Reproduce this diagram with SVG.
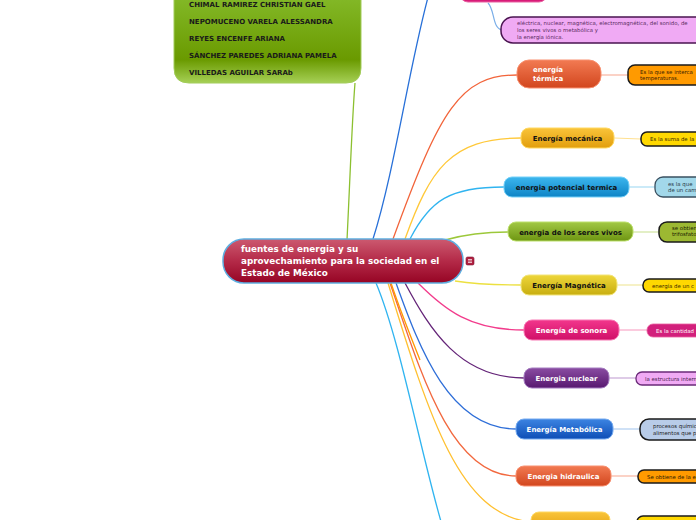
<svg xmlns="http://www.w3.org/2000/svg" width="696" height="520" viewBox="0 0 696 520">
<defs>
<linearGradient id="gGreen" x1="0" y1="0" x2="0" y2="1"><stop offset="0" stop-color="#86bc2c"/><stop offset="0.75" stop-color="#6a9a00"/><stop offset="1" stop-color="#a6d056"/></linearGradient>
<linearGradient id="gCenter" x1="0" y1="0" x2="0" y2="1"><stop offset="0" stop-color="#cc5a70"/><stop offset="0.5" stop-color="#b42a48"/><stop offset="1" stop-color="#960424"/></linearGradient>
<linearGradient id="gTerm" x1="0" y1="0" x2="0" y2="1"><stop offset="0" stop-color="#f27a52"/><stop offset="1" stop-color="#d2461e"/></linearGradient>
<linearGradient id="gMec" x1="0" y1="0" x2="0" y2="1"><stop offset="0" stop-color="#f9c43a"/><stop offset="1" stop-color="#e29e0c"/></linearGradient>
<linearGradient id="gPot" x1="0" y1="0" x2="0" y2="1"><stop offset="0" stop-color="#3cb6ee"/><stop offset="1" stop-color="#0e84c6"/></linearGradient>
<linearGradient id="gViv" x1="0" y1="0" x2="0" y2="1"><stop offset="0" stop-color="#a2c844"/><stop offset="1" stop-color="#6e9612"/></linearGradient>
<linearGradient id="gMag" x1="0" y1="0" x2="0" y2="1"><stop offset="0" stop-color="#eed63a"/><stop offset="1" stop-color="#c8ae10"/></linearGradient>
<linearGradient id="gSon" x1="0" y1="0" x2="0" y2="1"><stop offset="0" stop-color="#f2368c"/><stop offset="1" stop-color="#d01068"/></linearGradient>
<linearGradient id="gNuc" x1="0" y1="0" x2="0" y2="1"><stop offset="0" stop-color="#8a4ca2"/><stop offset="1" stop-color="#581870"/></linearGradient>
<linearGradient id="gMet" x1="0" y1="0" x2="0" y2="1"><stop offset="0" stop-color="#3c84e2"/><stop offset="1" stop-color="#0e4eb6"/></linearGradient>
<style>
.nt{font-family:"DejaVu Sans",Verdana,sans-serif;font-weight:bold;font-size:7px;}
.w{fill:#ffffff;}
.k{fill:#111111;}
.nm{font-family:"DejaVu Sans",Verdana,sans-serif;font-weight:bold;font-size:7px;fill:#1a1a1a;}
.ds{font-family:"DejaVu Sans",Verdana,sans-serif;font-size:5.4px;}
.c{fill:none;stroke-width:1.3;}
.cl{fill:none;stroke-width:1.2;}
.box{stroke:#1a1a1a;stroke-width:1.5;}
</style>
</defs>
<rect width="696" height="520" fill="#ffffff"/>

<g id="connectors">
<path class="c" d="M347,240 C350,180 352,120 355,83" stroke="#8cc030" stroke-width="1.6"/>
<path class="c" d="M373,239 C395,170 410,60 430,-10" stroke="#2870d8" stroke-width="1.6"/>
<path class="c" d="M393,239 C440,110 460,75 517,75" stroke="#f2643a"/>
<path class="c" d="M405,239 C430,170 450,138 521,138" stroke="#ffc838"/>
<path class="c" d="M410,239 C430,200 450,187 504,187" stroke="#30b4f0"/>
<path class="c" d="M445,240 C470,233 490,232 508,232" stroke="#9cc83a"/>
<path class="c" d="M455,281 C480,285 500,285 521,285" stroke="#ece040"/>
<path class="c" d="M418,283 C445,310 470,330 524,330" stroke="#f23c8c"/>
<path class="c" d="M405,283 C430,330 460,378 524,378" stroke="#642478"/>
<path class="c" d="M396,283 C420,350 450,429 516,429" stroke="#2e6ed8"/>
<path class="c" d="M390,283 C420,370 450,476 516,476" stroke="#f2683e"/>
<path class="c" d="M388,283 C430,420 460,515 531,522" stroke="#ffc030"/>
<path class="c" d="M391,283 C400,310 410,335 420,360" stroke="#ff9a00" stroke-width="1.8"/>
<path class="c" d="M376,283 C400,340 420,450 442,525" stroke="#30b4f0"/>
<path class="cl" d="M488,3 C495,10 492,28 502,30" stroke="#7aaee8"/>
<path class="cl" d="M601,75 L628,75" stroke="#f8b4a0"/>
<path class="cl" d="M614,138 L641,139" stroke="#ffe090"/>
<path class="cl" d="M629,187 L655,187" stroke="#a8dcf4"/>
<path class="cl" d="M633,232 L659,232" stroke="#d0e4a0"/>
<path class="cl" d="M617,285 L643,285" stroke="#f0e8a0"/>
<path class="cl" d="M619,330 L647,330" stroke="#f8a8c8"/>
<path class="cl" d="M609,378 L636,378" stroke="#c8a8d8"/>
<path class="cl" d="M613,429 L640,429" stroke="#b0cdf0"/>
<path class="cl" d="M611,476 L638,476" stroke="#f8b4a0"/>
</g>

<g id="names">
<path d="M174,-10 H361 V68 Q361,83 346,83 H189 Q174,83 174,68 Z" fill="url(#gGreen)" stroke="#a2cc5a" stroke-width="1"/>
<text class="nm" x="189" y="7">CHIMAL RAMIREZ CHRISTIAN GAEL</text>
<text class="nm" x="189" y="24">NEPOMUCENO VARELA ALESSANDRA</text>
<text class="nm" x="189" y="41">REYES ENCENFE ARIANA</text>
<text class="nm" x="189" y="58">SÁNCHEZ PAREDES ADRIANA PAMELA</text>
<text class="nm" x="189" y="75">VILLEDAS AGUILAR SARAb</text>
</g>

<g id="center">
<rect x="223" y="239" width="240" height="44" rx="21" fill="url(#gCenter)" stroke="#5eaee0" stroke-width="1.5"/>
<text class="nt w" style="font-size:8.8px" x="241" y="252">fuentes de energia y su</text>
<text class="nt w" style="font-size:8.8px" x="241" y="264">aprovechamiento para la sociedad en el</text>
<text class="nt w" style="font-size:8.8px" x="241" y="276">Estado de México</text>
</g>
<g id="note-icon">
<rect x="466" y="257" width="8" height="8" rx="1.5" fill="#b02040" stroke="#801030" stroke-width="0.6"/>
<path d="M468,259.5 H472 M468,261 H472 M468,262.5 H472" stroke="#ffffff" stroke-width="0.7"/>
</g>

<g id="top-node">
<rect x="460" y="-20" width="87" height="22" rx="8" fill="#d81b78" stroke="#e860a0" stroke-width="1"/>
</g>
<g id="top-desc">
<rect x="501" y="17" width="240" height="26" rx="12" fill="#f0aaf4" stroke="#4a1450" stroke-width="1.5"/>
<text class="ds" fill="#5a2a60" x="517" y="25">eléctrica, nuclear, magnética, electromagnética, del sonido, de</text>
<text class="ds" fill="#5a2a60" x="517" y="32">los seres vivos o metabólica y</text>
<text class="ds" fill="#5a2a60" x="517" y="38.5">la energía iónica.</text>
</g>

<g id="termica">
<rect x="517" y="60" width="84" height="28" rx="12" fill="url(#gTerm)" stroke="#f89070" stroke-width="1"/>
<text class="nt w" x="533" y="72">energía</text>
<text class="nt w" x="533" y="81">térmica</text>
</g>
<g id="termica-desc">
<rect x="628" y="65" width="120" height="20" rx="7" fill="#ff9a00" class="box"/>
<text class="ds" fill="#3a2000" x="640" y="73.5">Es la que se interca</text>
<text class="ds" fill="#3a2000" x="640" y="80">temperaturas.</text>
</g>

<g id="mecanica">
<rect x="521" y="128" width="93" height="20" rx="8" fill="url(#gMec)" stroke="#ffd860" stroke-width="1"/>
<text class="nt k" x="567.5" y="141" text-anchor="middle">Energía mecánica</text>
</g>
<g id="mecanica-desc">
<rect x="641" y="132" width="100" height="14" rx="6" fill="#ffd800" class="box"/>
<text class="ds" fill="#3a2a00" x="650" y="141">Es la suma de la</text>
</g>

<g id="potencial">
<rect x="504" y="177" width="125" height="20" rx="8" fill="url(#gPot)" stroke="#74d0f8" stroke-width="1"/>
<text class="nt k" x="566.5" y="190" text-anchor="middle">energia potencial termica</text>
</g>
<g id="potencial-desc">
<rect x="655" y="177" width="100" height="20" rx="8" fill="#a2d8ea" stroke="#3a5060" stroke-width="1.3"/>
<text class="ds" fill="#2a3a48" x="668" y="185.5">es la que</text>
<text class="ds" fill="#2a3a48" x="668" y="192">de un cam</text>
</g>

<g id="vivos">
<rect x="508" y="222" width="125" height="19" rx="8" fill="url(#gViv)" stroke="#bce06a" stroke-width="1"/>
<text class="nt k" x="570.5" y="234.5" text-anchor="middle">energia de los seres vivos</text>
</g>
<g id="vivos-desc">
<rect x="659" y="222" width="100" height="20" rx="8" fill="#9cb832" class="box"/>
<text class="ds" fill="#1a2000" x="672" y="229.5">se obtien</text>
<text class="ds" fill="#1a2000" x="672" y="236">trifosfato</text>
</g>

<g id="magnetica">
<rect x="521" y="275" width="96" height="20" rx="8" fill="url(#gMag)" stroke="#f2e47a" stroke-width="1"/>
<text class="nt k" x="569" y="288" text-anchor="middle">Energía Magnética</text>
</g>
<g id="magnetica-desc">
<rect x="643" y="279" width="100" height="13" rx="6" fill="#ffd800" class="box"/>
<text class="ds" fill="#3a2a00" x="652" y="287.5">energía de un c</text>
</g>

<g id="sonora">
<rect x="524" y="320" width="95" height="20" rx="8" fill="url(#gSon)" stroke="#f878b4" stroke-width="1"/>
<text class="nt w" x="571.5" y="333" text-anchor="middle">Energía de sonora</text>
</g>
<g id="sonora-desc">
<rect x="647" y="324" width="100" height="13" rx="6" fill="#d2207c" stroke="#e860a0" stroke-width="0.8"/>
<text class="ds" fill="#ffffff" x="656" y="332.5">Es la cantidad</text>
</g>

<g id="nuclear">
<rect x="524" y="368" width="85" height="20" rx="8" fill="url(#gNuc)" stroke="#a47cc0" stroke-width="1"/>
<text class="nt w" x="566.5" y="381" text-anchor="middle">Energia nuclear</text>
</g>
<g id="nuclear-desc">
<rect x="636" y="372" width="110" height="13" rx="6" fill="#f0aaf4" stroke="#6a2a78" stroke-width="1.3"/>
<text class="ds" fill="#4a1a50" x="645" y="380.5">la estructura intern</text>
</g>

<g id="metabolica">
<rect x="516" y="419" width="97" height="20" rx="8" fill="url(#gMet)" stroke="#74aaf0" stroke-width="1"/>
<text class="nt w" x="564.5" y="432" text-anchor="middle">Energía Metabólica</text>
</g>
<g id="metabolica-desc">
<rect x="640" y="419" width="110" height="21" rx="9" fill="#b8cce8" class="box"/>
<text class="ds" fill="#1a1a1a" x="653" y="428">procesos químic</text>
<text class="ds" fill="#1a1a1a" x="653" y="434.5">alimentos que p</text>
</g>

<g id="hidraulica">
<rect x="516" y="466" width="95" height="20" rx="8" fill="url(#gTerm)" stroke="#f89070" stroke-width="1"/>
<text class="nt w" x="563.5" y="479" text-anchor="middle">Energia hidraulica</text>
</g>
<g id="hidraulica-desc">
<rect x="638" y="470" width="110" height="13" rx="6" fill="#ff9a00" class="box"/>
<text class="ds" fill="#2a1800" x="647" y="478.5">Se obtiene de la e</text>
</g>

<g id="bottom-node">
<rect x="531" y="512" width="79" height="20" rx="8" fill="url(#gMec)" stroke="#ffd860" stroke-width="1"/>
</g>
<g id="bottom-desc">
<rect x="637" y="516" width="110" height="14" rx="6" fill="#ffd800" class="box"/>
</g>
</svg>
